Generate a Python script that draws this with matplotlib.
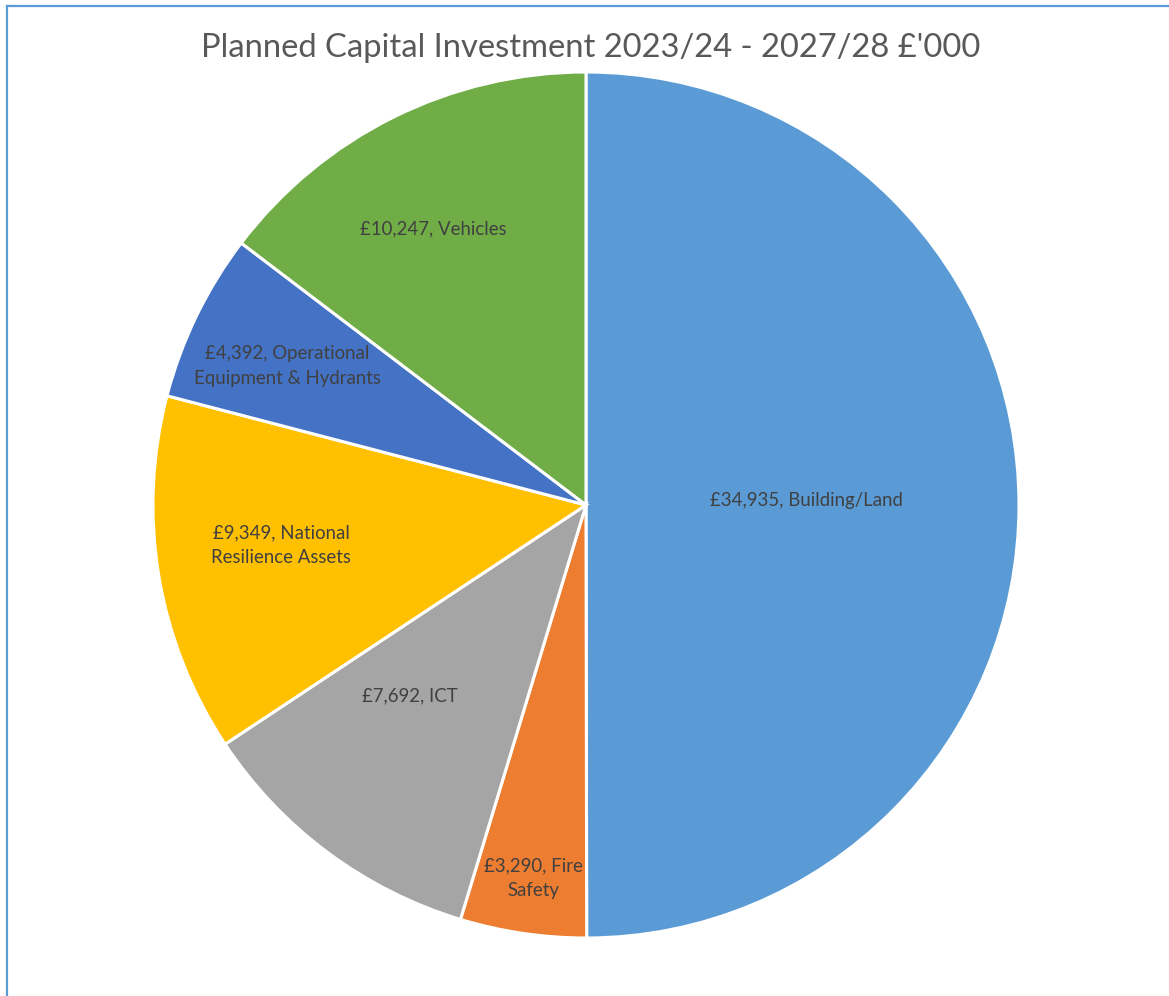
import numpy as np
import matplotlib
matplotlib.use("Agg")
import matplotlib.pyplot as plt
from matplotlib.lines import Line2D

# данные
labels = ["Building/Land", "Fire\nSafety", "ICT", "National\nResilience Assets",
          "Operational\nEquipment & Hydrants", "Vehicles"]
values = [34935, 3290, 7692, 9349, 4392, 10247]
colors = ["#5B9BD5", "#ED7D31", "#A5A5A5", "#FFC000", "#4472C4", "#70AD47"]
# положение подписи: радиус и сдвиг угла (как в Excel best fit)
label_r = [0.51, 0.87, 0.60, 0.71, 0.76, 0.73]
label_da = [1.0, 0.3, -6.0, -2.0, 1.0, 2.6]

plt.rcParams['font.family'] = ['Lato', 'DejaVu Sans']

W, H = 1169, 996
fig = plt.figure(figsize=(W / 100, H / 100), dpi=100)

# рамка слева и сверху
fig.add_artist(Line2D([7 / W, 7 / W], [0, 1 - 6 / H], color="#5B9BD5", lw=1.6))
fig.add_artist(Line2D([7 / W, 1], [1 - 6 / H, 1 - 6 / H], color="#5B9BD5", lw=1.6))

cx, cy, r = 586, 505, 433
ax = fig.add_axes([(cx - r) / W, 1 - (cy + r) / H, 2 * r / W, 2 * r / H])

wedges, _ = ax.pie(values, colors=colors, startangle=90, counterclock=False,
                   wedgeprops=dict(edgecolor="white", linewidth=2.2))
ax.set_xlim(-1, 1)
ax.set_ylim(-1, 1)
ax.set_aspect("equal")
ax.axis("off")

for w, lab, v, rr, da in zip(wedges, labels, values, label_r, label_da):
    ang = np.deg2rad((w.theta1 + w.theta2) / 2 + da)
    txt = f"£{v:,}, {lab}"
    ax.text(rr * np.cos(ang), rr * np.sin(ang), txt, ha="center", va="center",
            fontsize=13.4, color="#404040", linespacing=1.55)

fig.text(591 / W, 1 - 48 / H, "Planned Capital Investment 2023/24 - 2027/28 £'000",
         ha="center", va="center", fontsize=23.6, color="#595959")

fig.savefig("out.png", dpi=100)
